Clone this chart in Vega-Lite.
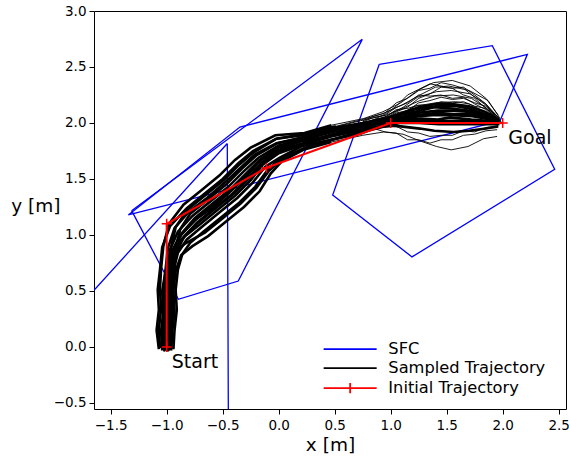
{
"$schema": "https://vega.github.io/schema/vega-lite/v6.json",
"width": 472, "height": 398,
"autosize": {"type": "none"},
"padding": {"left": 94, "top": 11, "right": 3, "bottom": 52},
"background": "white",
"config": {
  "font": "DejaVu Sans",
  "view": {"stroke": "black", "strokeWidth": 1},
  "axis": {"grid": false, "domain": false, "tickColor": "black", "tickSize": 5, "tickWidth": 1,
    "labelFont": "DejaVu Sans", "labelFontSize": 13.5, "labelColor": "black",
    "titleFont": "DejaVu Sans", "titleFontSize": 18.5, "titleFontWeight": "normal", "titleColor": "black"}
},
"datasets": {
  "sfc": [
    {"p":"A","i":0,"x":0.898,"y":2.524},{"p":"A","i":1,"x":1.907,"y":2.690},{"p":"A","i":2,"x":2.464,"y":1.587},{"p":"A","i":3,"x":1.190,"y":0.804},{"p":"A","i":4,"x":0.482,"y":1.357},{"p":"A","i":5,"x":0.898,"y":2.524},
    {"p":"B","i":0,"x":-1.343,"y":1.179},{"p":"B","i":1,"x":-0.346,"y":1.964},{"p":"B","i":2,"x":2.220,"y":2.613},{"p":"B","i":3,"x":1.976,"y":2.018},{"p":"B","i":4,"x":-1.343,"y":1.179},
    {"p":"C","i":0,"x":-1.313,"y":1.217},{"p":"C","i":1,"x":0.746,"y":2.747},{"p":"C","i":2,"x":-0.361,"y":0.589},{"p":"C","i":3,"x":-0.896,"y":0.426},{"p":"C","i":4,"x":-1.313,"y":1.217},
    {"p":"D","i":0,"x":-0.459,"y":1.817},{"p":"D","i":1,"x":-0.448,"y":-1.0},{"p":"D","i":2,"x":-2.0,"y":-1.0},{"p":"D","i":3,"x":-2.0,"y":0.12},{"p":"D","i":4,"x":-0.459,"y":1.817}
  ],
  "init": [
    {"i":0,"x":-1.0,"y":0.0},{"i":1,"x":-1.0,"y":1.1},{"i":2,"x":-0.11,"y":1.6},{"i":3,"x":1.0,"y":2.0},{"i":4,"x":2.0,"y":2.0}
  ],
  "labels": [
    {"text":"Start","x":-0.955,"y":-0.135},{"text":"Goal","x":2.05,"y":1.862}
  ],
  "samples": [
    {"t":1,"i":0,"x":-1.00,"y":-0.02},{"t":1,"i":1,"x":-1.01,"y":0.15},{"t":1,"i":2,"x":-0.99,"y":0.33},{"t":1,"i":3,"x":-0.99,"y":0.51},{"t":1,"i":4,"x":-0.96,"y":0.69},{"t":1,"i":5,"x":-0.94,"y":0.87},{"t":1,"i":6,"x":-0.87,"y":1.00},{"t":1,"i":7,"x":-0.74,"y":1.14},{"t":1,"i":8,"x":-0.58,"y":1.25},{"t":1,"i":9,"x":-0.42,"y":1.40},{"t":1,"i":10,"x":-0.28,"y":1.53},{"t":1,"i":11,"x":-0.16,"y":1.67},{"t":1,"i":12,"x":0.00,"y":1.76},{"t":1,"i":13,"x":0.21,"y":1.84},{"t":1,"i":14,"x":0.49,"y":1.89},{"t":1,"i":15,"x":0.73,"y":1.97},{"t":1,"i":16,"x":0.96,"y":2.01},{"t":1,"i":17,"x":1.11,"y":2.05},{"t":1,"i":18,"x":1.24,"y":2.07},{"t":1,"i":19,"x":1.41,"y":2.09},{"t":1,"i":20,"x":1.56,"y":2.08},{"t":1,"i":21,"x":1.69,"y":2.08},{"t":1,"i":22,"x":1.85,"y":2.05},{"t":1,"i":23,"x":1.98,"y":2.01},
    {"t":2,"i":0,"x":-1.03,"y":-0.01},{"t":2,"i":1,"x":-1.04,"y":0.16},{"t":2,"i":2,"x":-1.02,"y":0.33},{"t":2,"i":3,"x":-1.03,"y":0.52},{"t":2,"i":4,"x":-1.01,"y":0.69},{"t":2,"i":5,"x":-0.99,"y":0.88},{"t":2,"i":6,"x":-0.93,"y":1.06},{"t":2,"i":7,"x":-0.80,"y":1.21},{"t":2,"i":8,"x":-0.64,"y":1.33},{"t":2,"i":9,"x":-0.48,"y":1.47},{"t":2,"i":10,"x":-0.34,"y":1.60},{"t":2,"i":11,"x":-0.21,"y":1.72},{"t":2,"i":12,"x":-0.02,"y":1.82},{"t":2,"i":13,"x":0.24,"y":1.87},{"t":2,"i":14,"x":0.46,"y":1.95},{"t":2,"i":15,"x":0.75,"y":2.00},{"t":2,"i":16,"x":0.94,"y":2.04},{"t":2,"i":17,"x":1.12,"y":2.08},{"t":2,"i":18,"x":1.26,"y":2.11},{"t":2,"i":19,"x":1.39,"y":2.14},{"t":2,"i":20,"x":1.54,"y":2.13},{"t":2,"i":21,"x":1.71,"y":2.11},{"t":2,"i":22,"x":1.83,"y":2.08},{"t":2,"i":23,"x":1.97,"y":2.02},
    {"t":3,"i":0,"x":-0.98,"y":-0.03},{"t":3,"i":1,"x":-0.97,"y":0.14},{"t":3,"i":2,"x":-0.95,"y":0.32},{"t":3,"i":3,"x":-0.96,"y":0.50},{"t":3,"i":4,"x":-0.94,"y":0.68},{"t":3,"i":5,"x":-0.90,"y":0.84},{"t":3,"i":6,"x":-0.82,"y":0.96},{"t":3,"i":7,"x":-0.69,"y":1.07},{"t":3,"i":8,"x":-0.53,"y":1.20},{"t":3,"i":9,"x":-0.37,"y":1.33},{"t":3,"i":10,"x":-0.23,"y":1.47},{"t":3,"i":11,"x":-0.12,"y":1.61},{"t":3,"i":12,"x":0.01,"y":1.69},{"t":3,"i":13,"x":0.20,"y":1.79},{"t":3,"i":14,"x":0.50,"y":1.86},{"t":3,"i":15,"x":0.72,"y":1.92},{"t":3,"i":16,"x":0.97,"y":1.99},{"t":3,"i":17,"x":1.09,"y":2.03},{"t":3,"i":18,"x":1.27,"y":2.04},{"t":3,"i":19,"x":1.42,"y":2.03},{"t":3,"i":20,"x":1.53,"y":2.05},{"t":3,"i":21,"x":1.72,"y":2.03},{"t":3,"i":22,"x":1.86,"y":2.02},{"t":3,"i":23,"x":1.99,"y":2.00},
    {"t":4,"i":0,"x":-1.06,"y":-0.01},{"t":4,"i":1,"x":-1.07,"y":0.16},{"t":4,"i":2,"x":-1.05,"y":0.34},{"t":4,"i":3,"x":-1.06,"y":0.52},{"t":4,"i":4,"x":-1.05,"y":0.70},{"t":4,"i":5,"x":-1.03,"y":0.90},{"t":4,"i":6,"x":-0.98,"y":1.10},{"t":4,"i":7,"x":-0.85,"y":1.27},{"t":4,"i":8,"x":-0.69,"y":1.40},{"t":4,"i":9,"x":-0.53,"y":1.53},{"t":4,"i":10,"x":-0.39,"y":1.67},{"t":4,"i":11,"x":-0.25,"y":1.78},{"t":4,"i":12,"x":-0.03,"y":1.89},{"t":4,"i":13,"x":0.23,"y":1.91},{"t":4,"i":14,"x":0.47,"y":1.98},{"t":4,"i":15,"x":0.76,"y":2.04},{"t":4,"i":16,"x":0.93,"y":2.10},{"t":4,"i":17,"x":1.09,"y":2.18},{"t":4,"i":18,"x":1.24,"y":2.29},{"t":4,"i":19,"x":1.38,"y":2.36},{"t":4,"i":20,"x":1.55,"y":2.38},{"t":4,"i":21,"x":1.71,"y":2.33},{"t":4,"i":22,"x":1.85,"y":2.22},{"t":4,"i":23,"x":1.96,"y":2.07},
    {"t":5,"i":0,"x":-0.96,"y":-0.03},{"t":5,"i":1,"x":-0.95,"y":0.14},{"t":5,"i":2,"x":-0.93,"y":0.32},{"t":5,"i":3,"x":-0.94,"y":0.50},{"t":5,"i":4,"x":-0.92,"y":0.68},{"t":5,"i":5,"x":-0.87,"y":0.82},{"t":5,"i":6,"x":-0.77,"y":0.90},{"t":5,"i":7,"x":-0.63,"y":0.99},{"t":5,"i":8,"x":-0.47,"y":1.12},{"t":5,"i":9,"x":-0.31,"y":1.25},{"t":5,"i":10,"x":-0.17,"y":1.39},{"t":5,"i":11,"x":-0.07,"y":1.55},{"t":5,"i":12,"x":0.03,"y":1.66},{"t":5,"i":13,"x":0.22,"y":1.76},{"t":5,"i":14,"x":0.47,"y":1.83},{"t":5,"i":15,"x":0.75,"y":1.89},{"t":5,"i":16,"x":0.94,"y":1.92},{"t":5,"i":17,"x":1.11,"y":1.90},{"t":5,"i":18,"x":1.26,"y":1.84},{"t":5,"i":19,"x":1.41,"y":1.79},{"t":5,"i":20,"x":1.54,"y":1.76},{"t":5,"i":21,"x":1.69,"y":1.79},{"t":5,"i":22,"x":1.83,"y":1.86},{"t":5,"i":23,"x":1.95,"y":1.88},
    {"t":6,"i":0,"x":-1.01,"y":-0.02},{"t":6,"i":1,"x":-1.02,"y":0.15},{"t":6,"i":2,"x":-1.00,"y":0.33},{"t":6,"i":3,"x":-1.01,"y":0.51},{"t":6,"i":4,"x":-0.99,"y":0.69},{"t":6,"i":5,"x":-0.97,"y":0.87},{"t":6,"i":6,"x":-0.90,"y":1.03},{"t":6,"i":7,"x":-0.77,"y":1.17},{"t":6,"i":8,"x":-0.61,"y":1.30},{"t":6,"i":9,"x":-0.45,"y":1.43},{"t":6,"i":10,"x":-0.31,"y":1.57},{"t":6,"i":11,"x":-0.18,"y":1.69},{"t":6,"i":12,"x":0.00,"y":1.80},{"t":6,"i":13,"x":0.22,"y":1.85},{"t":6,"i":14,"x":0.48,"y":1.92},{"t":6,"i":15,"x":0.74,"y":1.98},{"t":6,"i":16,"x":0.95,"y":2.04},{"t":6,"i":17,"x":1.10,"y":2.09},{"t":6,"i":18,"x":1.25,"y":2.14},{"t":6,"i":19,"x":1.40,"y":2.17},{"t":6,"i":20,"x":1.55,"y":2.17},{"t":6,"i":21,"x":1.70,"y":2.15},{"t":6,"i":22,"x":1.84,"y":2.10},{"t":6,"i":23,"x":1.97,"y":2.03},
    {"t":7,"i":0,"x":-0.99,"y":-0.04},{"t":7,"i":1,"x":-0.98,"y":0.14},{"t":7,"i":2,"x":-0.97,"y":0.33},{"t":7,"i":3,"x":-0.96,"y":0.51},{"t":7,"i":4,"x":-0.95,"y":0.69},{"t":7,"i":5,"x":-0.92,"y":0.85},{"t":7,"i":6,"x":-0.85,"y":0.98},{"t":7,"i":7,"x":-0.72,"y":1.11},{"t":7,"i":8,"x":-0.56,"y":1.24},{"t":7,"i":9,"x":-0.40,"y":1.37},{"t":7,"i":10,"x":-0.26,"y":1.51},{"t":7,"i":11,"x":-0.15,"y":1.64},{"t":7,"i":12,"x":0.01,"y":1.74},{"t":7,"i":13,"x":0.23,"y":1.82},{"t":7,"i":14,"x":0.47,"y":1.89},{"t":7,"i":15,"x":0.76,"y":1.95},{"t":7,"i":16,"x":0.93,"y":2.01},{"t":7,"i":17,"x":1.12,"y":2.06},{"t":7,"i":18,"x":1.23,"y":2.09},{"t":7,"i":19,"x":1.42,"y":2.11},{"t":7,"i":20,"x":1.57,"y":2.11},{"t":7,"i":21,"x":1.68,"y":2.10},{"t":7,"i":22,"x":1.86,"y":2.06},{"t":7,"i":23,"x":1.96,"y":2.01},
    {"t":8,"i":0,"x":-1.07,"y":-0.02},{"t":8,"i":1,"x":-1.09,"y":0.15},{"t":8,"i":2,"x":-1.07,"y":0.33},{"t":8,"i":3,"x":-1.08,"y":0.51},{"t":8,"i":4,"x":-1.06,"y":0.69},{"t":8,"i":5,"x":-1.04,"y":0.89},{"t":8,"i":6,"x":-0.97,"y":1.08},{"t":8,"i":7,"x":-0.82,"y":1.24},{"t":8,"i":8,"x":-0.66,"y":1.37},{"t":8,"i":9,"x":-0.50,"y":1.50},{"t":8,"i":10,"x":-0.36,"y":1.64},{"t":8,"i":11,"x":-0.23,"y":1.75},{"t":8,"i":12,"x":-0.02,"y":1.86},{"t":8,"i":13,"x":0.21,"y":1.89},{"t":8,"i":14,"x":0.49,"y":1.96},{"t":8,"i":15,"x":0.73,"y":2.02},{"t":8,"i":16,"x":0.96,"y":2.07},{"t":8,"i":17,"x":1.08,"y":2.12},{"t":8,"i":18,"x":1.26,"y":2.20},{"t":8,"i":19,"x":1.39,"y":2.24},{"t":8,"i":20,"x":1.56,"y":2.25},{"t":8,"i":21,"x":1.72,"y":2.22},{"t":8,"i":22,"x":1.83,"y":2.15},{"t":8,"i":23,"x":1.98,"y":2.04},
    {"t":9,"i":0,"x":-0.94,"y":-0.02},{"t":9,"i":1,"x":-0.93,"y":0.15},{"t":9,"i":2,"x":-0.91,"y":0.33},{"t":9,"i":3,"x":-0.92,"y":0.51},{"t":9,"i":4,"x":-0.90,"y":0.69},{"t":9,"i":5,"x":-0.86,"y":0.83},{"t":9,"i":6,"x":-0.79,"y":0.93},{"t":9,"i":7,"x":-0.67,"y":1.03},{"t":9,"i":8,"x":-0.51,"y":1.16},{"t":9,"i":9,"x":-0.35,"y":1.29},{"t":9,"i":10,"x":-0.21,"y":1.43},{"t":9,"i":11,"x":-0.10,"y":1.58},{"t":9,"i":12,"x":0.01,"y":1.68},{"t":9,"i":13,"x":0.24,"y":1.78},{"t":9,"i":14,"x":0.48,"y":1.85},{"t":9,"i":15,"x":0.72,"y":1.91},{"t":9,"i":16,"x":0.95,"y":1.97},{"t":9,"i":17,"x":1.08,"y":2.00},{"t":9,"i":18,"x":1.25,"y":2.00},{"t":9,"i":19,"x":1.43,"y":1.99},{"t":9,"i":20,"x":1.55,"y":1.99},{"t":9,"i":21,"x":1.68,"y":1.99},{"t":9,"i":22,"x":1.84,"y":1.99},{"t":9,"i":23,"x":1.97,"y":1.99},
    {"t":10,"i":0,"x":-1.00,"y":-0.03},{"t":10,"i":1,"x":-0.99,"y":0.15},{"t":10,"i":2,"x":-0.98,"y":0.33},{"t":10,"i":3,"x":-0.99,"y":0.51},{"t":10,"i":4,"x":-0.96,"y":0.69},{"t":10,"i":5,"x":-0.94,"y":0.87},{"t":10,"i":6,"x":-0.87,"y":1.01},{"t":10,"i":7,"x":-0.75,"y":1.15},{"t":10,"i":8,"x":-0.59,"y":1.28},{"t":10,"i":9,"x":-0.43,"y":1.41},{"t":10,"i":10,"x":-0.29,"y":1.55},{"t":10,"i":11,"x":-0.17,"y":1.67},{"t":10,"i":12,"x":0.00,"y":1.79},{"t":10,"i":13,"x":0.21,"y":1.86},{"t":10,"i":14,"x":0.49,"y":1.93},{"t":10,"i":15,"x":0.74,"y":1.99},{"t":10,"i":16,"x":0.96,"y":2.06},{"t":10,"i":17,"x":1.11,"y":2.14},{"t":10,"i":18,"x":1.24,"y":2.23},{"t":10,"i":19,"x":1.41,"y":2.28},{"t":10,"i":20,"x":1.54,"y":2.29},{"t":10,"i":21,"x":1.71,"y":2.26},{"t":10,"i":22,"x":1.85,"y":2.17},{"t":10,"i":23,"x":1.97,"y":2.04},
    {"t":11,"i":0,"x":-1.02,"y":-0.04},{"t":11,"i":1,"x":-1.03,"y":0.14},{"t":11,"i":2,"x":-1.01,"y":0.32},{"t":11,"i":3,"x":-1.02,"y":0.50},{"t":11,"i":4,"x":-1.00,"y":0.68},{"t":11,"i":5,"x":-0.96,"y":0.85},{"t":11,"i":6,"x":-0.86,"y":0.97},{"t":11,"i":7,"x":-0.71,"y":1.09},{"t":11,"i":8,"x":-0.55,"y":1.22},{"t":11,"i":9,"x":-0.39,"y":1.35},{"t":11,"i":10,"x":-0.25,"y":1.49},{"t":11,"i":11,"x":-0.14,"y":1.63},{"t":11,"i":12,"x":0.00,"y":1.73},{"t":11,"i":13,"x":0.23,"y":1.81},{"t":11,"i":14,"x":0.47,"y":1.88},{"t":11,"i":15,"x":0.75,"y":1.94},{"t":11,"i":16,"x":0.95,"y":1.98},{"t":11,"i":17,"x":1.09,"y":1.97},{"t":11,"i":18,"x":1.26,"y":1.95},{"t":11,"i":19,"x":1.39,"y":1.93},{"t":11,"i":20,"x":1.56,"y":1.92},{"t":11,"i":21,"x":1.70,"y":1.93},{"t":11,"i":22,"x":1.85,"y":1.95},{"t":11,"i":23,"x":1.96,"y":1.97},
    {"t":12,"i":0,"x":-0.97,"y":-0.02},{"t":12,"i":1,"x":-0.96,"y":0.15},{"t":12,"i":2,"x":-0.94,"y":0.33},{"t":12,"i":3,"x":-0.95,"y":0.51},{"t":12,"i":4,"x":-0.93,"y":0.69},{"t":12,"i":5,"x":-0.92,"y":0.88},{"t":12,"i":6,"x":-0.88,"y":1.05},{"t":12,"i":7,"x":-0.79,"y":1.19},{"t":12,"i":8,"x":-0.63,"y":1.32},{"t":12,"i":9,"x":-0.47,"y":1.45},{"t":12,"i":10,"x":-0.33,"y":1.59},{"t":12,"i":11,"x":-0.20,"y":1.71},{"t":12,"i":12,"x":-0.01,"y":1.82},{"t":12,"i":13,"x":0.20,"y":1.87},{"t":12,"i":14,"x":0.48,"y":1.94},{"t":12,"i":15,"x":0.77,"y":2.00},{"t":12,"i":16,"x":0.95,"y":2.03},{"t":12,"i":17,"x":1.13,"y":2.04},{"t":12,"i":18,"x":1.25,"y":2.06},{"t":12,"i":19,"x":1.37,"y":2.07},{"t":12,"i":20,"x":1.55,"y":2.07},{"t":12,"i":21,"x":1.73,"y":2.06},{"t":12,"i":22,"x":1.84,"y":2.04},{"t":12,"i":23,"x":1.97,"y":2.01},
    {"t":13,"i":0,"x":-1.04,"y":-0.03},{"t":13,"i":1,"x":-1.05,"y":0.14},{"t":13,"i":2,"x":-1.03,"y":0.32},{"t":13,"i":3,"x":-1.04,"y":0.50},{"t":13,"i":4,"x":-1.01,"y":0.68},{"t":13,"i":5,"x":-0.96,"y":0.83},{"t":13,"i":6,"x":-0.84,"y":0.92},{"t":13,"i":7,"x":-0.66,"y":1.02},{"t":13,"i":8,"x":-0.50,"y":1.15},{"t":13,"i":9,"x":-0.34,"y":1.28},{"t":13,"i":10,"x":-0.20,"y":1.42},{"t":13,"i":11,"x":-0.09,"y":1.57},{"t":13,"i":12,"x":0.01,"y":1.66},{"t":13,"i":13,"x":0.22,"y":1.77},{"t":13,"i":14,"x":0.45,"y":1.84},{"t":13,"i":15,"x":0.74,"y":1.90},{"t":13,"i":16,"x":0.98,"y":2.00},{"t":13,"i":17,"x":1.10,"y":2.09},{"t":13,"i":18,"x":1.22,"y":2.15},{"t":13,"i":19,"x":1.40,"y":2.18},{"t":13,"i":20,"x":1.58,"y":2.19},{"t":13,"i":21,"x":1.70,"y":2.17},{"t":13,"i":22,"x":1.82,"y":2.11},{"t":13,"i":23,"x":1.97,"y":2.03},
    {"t":14,"i":0,"x":-0.99,"y":-0.02},{"t":14,"i":1,"x":-1.00,"y":0.15},{"t":14,"i":2,"x":-0.99,"y":0.33},{"t":14,"i":3,"x":-1.00,"y":0.51},{"t":14,"i":4,"x":-0.98,"y":0.69},{"t":14,"i":5,"x":-0.96,"y":0.89},{"t":14,"i":6,"x":-0.92,"y":1.07},{"t":14,"i":7,"x":-0.81,"y":1.23},{"t":14,"i":8,"x":-0.65,"y":1.36},{"t":14,"i":9,"x":-0.49,"y":1.49},{"t":14,"i":10,"x":-0.35,"y":1.63},{"t":14,"i":11,"x":-0.22,"y":1.74},{"t":14,"i":12,"x":-0.02,"y":1.86},{"t":14,"i":13,"x":0.22,"y":1.90},{"t":14,"i":14,"x":0.51,"y":1.97},{"t":14,"i":15,"x":0.74,"y":2.03},{"t":14,"i":16,"x":0.92,"y":2.08},{"t":14,"i":17,"x":1.10,"y":2.16},{"t":14,"i":18,"x":1.28,"y":2.26},{"t":14,"i":19,"x":1.40,"y":2.32},{"t":14,"i":20,"x":1.52,"y":2.33},{"t":14,"i":21,"x":1.70,"y":2.29},{"t":14,"i":22,"x":1.87,"y":2.20},{"t":14,"i":23,"x":1.97,"y":2.05},
    {"t":15,"i":0,"x":-0.98,"y":-0.03},{"t":15,"i":1,"x":-0.97,"y":0.15},{"t":15,"i":2,"x":-0.96,"y":0.33},{"t":15,"i":3,"x":-0.97,"y":0.51},{"t":15,"i":4,"x":-0.94,"y":0.69},{"t":15,"i":5,"x":-0.91,"y":0.86},{"t":15,"i":6,"x":-0.84,"y":0.99},{"t":15,"i":7,"x":-0.73,"y":1.11},{"t":15,"i":8,"x":-0.57,"y":1.24},{"t":15,"i":9,"x":-0.41,"y":1.37},{"t":15,"i":10,"x":-0.27,"y":1.51},{"t":15,"i":11,"x":-0.15,"y":1.65},{"t":15,"i":12,"x":0.00,"y":1.75},{"t":15,"i":13,"x":0.25,"y":1.83},{"t":15,"i":14,"x":0.48,"y":1.90},{"t":15,"i":15,"x":0.71,"y":1.96},{"t":15,"i":16,"x":0.95,"y":2.00},{"t":15,"i":17,"x":1.14,"y":2.02},{"t":15,"i":18,"x":1.25,"y":2.02},{"t":15,"i":19,"x":1.36,"y":2.02},{"t":15,"i":20,"x":1.55,"y":2.02},{"t":15,"i":21,"x":1.74,"y":2.02},{"t":15,"i":22,"x":1.84,"y":2.01},{"t":15,"i":23,"x":1.97,"y":2.00},
    {"t":16,"i":0,"x":-1.01,"y":-0.03},{"t":16,"i":1,"x":-1.00,"y":0.15},{"t":16,"i":2,"x":-1.01,"y":0.33},{"t":16,"i":3,"x":-0.99,"y":0.51},{"t":16,"i":4,"x":-0.98,"y":0.69},{"t":16,"i":5,"x":-0.95,"y":0.86},{"t":16,"i":6,"x":-0.88,"y":1.00},{"t":16,"i":7,"x":-0.75,"y":1.13},{"t":16,"i":8,"x":-0.59,"y":1.26},{"t":16,"i":9,"x":-0.43,"y":1.39},{"t":16,"i":10,"x":-0.29,"y":1.54},{"t":16,"i":11,"x":-0.17,"y":1.66},{"t":16,"i":12,"x":0.00,"y":1.78},{"t":16,"i":13,"x":0.22,"y":1.85},{"t":16,"i":14,"x":0.44,"y":1.92},{"t":16,"i":15,"x":0.74,"y":1.98},{"t":16,"i":16,"x":0.99,"y":2.03},{"t":16,"i":17,"x":1.10,"y":2.08},{"t":16,"i":18,"x":1.21,"y":2.12},{"t":16,"i":19,"x":1.40,"y":2.15},{"t":16,"i":20,"x":1.59,"y":2.15},{"t":16,"i":21,"x":1.70,"y":2.13},{"t":16,"i":22,"x":1.81,"y":2.09},{"t":16,"i":23,"x":1.97,"y":2.02},
    {"t":17,"i":0,"x":0.75,"y":2.00},{"t":17,"i":1,"x":0.85,"y":2.03},{"t":17,"i":2,"x":0.95,"y":2.08},{"t":17,"i":3,"x":1.05,"y":2.15},{"t":17,"i":4,"x":1.15,"y":2.25},{"t":17,"i":5,"x":1.25,"y":2.30},{"t":17,"i":6,"x":1.35,"y":2.35},{"t":17,"i":7,"x":1.45,"y":2.33},{"t":17,"i":8,"x":1.55,"y":2.31},{"t":17,"i":9,"x":1.65,"y":2.25},{"t":17,"i":10,"x":1.75,"y":2.22},{"t":17,"i":11,"x":1.85,"y":2.13},{"t":17,"i":12,"x":1.95,"y":2.05},
    {"t":18,"i":0,"x":0.75,"y":1.99},{"t":18,"i":1,"x":0.85,"y":2.02},{"t":18,"i":2,"x":0.95,"y":2.04},{"t":18,"i":3,"x":1.05,"y":2.10},{"t":18,"i":4,"x":1.15,"y":2.14},{"t":18,"i":5,"x":1.25,"y":2.22},{"t":18,"i":6,"x":1.35,"y":2.26},{"t":18,"i":7,"x":1.45,"y":2.32},{"t":18,"i":8,"x":1.55,"y":2.31},{"t":18,"i":9,"x":1.65,"y":2.32},{"t":18,"i":10,"x":1.75,"y":2.25},{"t":18,"i":11,"x":1.85,"y":2.17},{"t":18,"i":12,"x":1.95,"y":2.04},
    {"t":19,"i":0,"x":0.75,"y":2.01},{"t":19,"i":1,"x":0.85,"y":2.05},{"t":19,"i":2,"x":0.95,"y":2.07},{"t":19,"i":3,"x":1.05,"y":2.14},{"t":19,"i":4,"x":1.15,"y":2.18},{"t":19,"i":5,"x":1.25,"y":2.25},{"t":19,"i":6,"x":1.35,"y":2.24},{"t":19,"i":7,"x":1.45,"y":2.25},{"t":19,"i":8,"x":1.55,"y":2.22},{"t":19,"i":9,"x":1.65,"y":2.23},{"t":19,"i":10,"x":1.75,"y":2.17},{"t":19,"i":11,"x":1.85,"y":2.12},{"t":19,"i":12,"x":1.95,"y":2.03},
    {"t":20,"i":0,"x":0.75,"y":1.98},{"t":20,"i":1,"x":0.85,"y":2.02},{"t":20,"i":2,"x":0.95,"y":2.03},{"t":20,"i":3,"x":1.05,"y":2.09},{"t":20,"i":4,"x":1.15,"y":2.11},{"t":20,"i":5,"x":1.25,"y":2.18},{"t":20,"i":6,"x":1.35,"y":2.20},{"t":20,"i":7,"x":1.45,"y":2.23},{"t":20,"i":8,"x":1.55,"y":2.21},{"t":20,"i":9,"x":1.65,"y":2.22},{"t":20,"i":10,"x":1.75,"y":2.18},{"t":20,"i":11,"x":1.85,"y":2.15},{"t":20,"i":12,"x":1.95,"y":2.06},
    {"t":21,"i":0,"x":0.75,"y":1.93},{"t":21,"i":1,"x":0.85,"y":1.95},{"t":21,"i":2,"x":0.95,"y":1.92},{"t":21,"i":3,"x":1.05,"y":1.91},{"t":21,"i":4,"x":1.15,"y":1.85},{"t":21,"i":5,"x":1.25,"y":1.85},{"t":21,"i":6,"x":1.35,"y":1.82},{"t":21,"i":7,"x":1.45,"y":1.85},{"t":21,"i":8,"x":1.55,"y":1.85},{"t":21,"i":9,"x":1.65,"y":1.89},{"t":21,"i":10,"x":1.75,"y":1.90},{"t":21,"i":11,"x":1.85,"y":1.93},{"t":21,"i":12,"x":1.95,"y":1.94},
    {"t":22,"i":0,"x":0.75,"y":1.95},{"t":22,"i":1,"x":0.85,"y":1.97},{"t":22,"i":2,"x":0.95,"y":1.96},{"t":22,"i":3,"x":1.05,"y":1.97},{"t":22,"i":4,"x":1.15,"y":1.92},{"t":22,"i":5,"x":1.25,"y":1.91},{"t":22,"i":6,"x":1.35,"y":1.88},{"t":22,"i":7,"x":1.45,"y":1.89},{"t":22,"i":8,"x":1.55,"y":1.89},{"t":22,"i":9,"x":1.65,"y":1.93},{"t":22,"i":10,"x":1.75,"y":1.92},{"t":22,"i":11,"x":1.85,"y":1.96},{"t":22,"i":12,"x":1.95,"y":1.97},
    {"t":23,"i":0,"x":0.75,"y":2.02},{"t":23,"i":1,"x":0.85,"y":2.06},{"t":23,"i":2,"x":0.95,"y":2.09},{"t":23,"i":3,"x":1.05,"y":2.18},{"t":23,"i":4,"x":1.15,"y":2.22},{"t":23,"i":5,"x":1.25,"y":2.29},{"t":23,"i":6,"x":1.35,"y":2.31},{"t":23,"i":7,"x":1.45,"y":2.36},{"t":23,"i":8,"x":1.55,"y":2.34},{"t":23,"i":9,"x":1.65,"y":2.31},{"t":23,"i":10,"x":1.75,"y":2.23},{"t":23,"i":11,"x":1.85,"y":2.16},{"t":23,"i":12,"x":1.95,"y":2.06},
    {"t":24,"i":0,"x":0.75,"y":1.99},{"t":24,"i":1,"x":0.85,"y":2.03},{"t":24,"i":2,"x":0.95,"y":2.05},{"t":24,"i":3,"x":1.05,"y":2.12},{"t":24,"i":4,"x":1.15,"y":2.13},{"t":24,"i":5,"x":1.25,"y":2.16},{"t":24,"i":6,"x":1.35,"y":2.16},{"t":24,"i":7,"x":1.45,"y":2.19},{"t":24,"i":8,"x":1.55,"y":2.18},{"t":24,"i":9,"x":1.65,"y":2.19},{"t":24,"i":10,"x":1.75,"y":2.15},{"t":24,"i":11,"x":1.85,"y":2.13},{"t":24,"i":12,"x":1.95,"y":2.04}
  ]
},
"encoding": {
  "x": {"field": "x", "type": "quantitative",
    "scale": {"domain": [-1.649, 2.565], "nice": false, "zero": false},
    "axis": {"values": [-1.5,-1,-0.5,0,0.5,1,1.5,2,2.5], "format": ".1f", "title": "x [m]", "labelPadding": 4, "titlePadding": 4}},
  "y": {"field": "y", "type": "quantitative",
    "scale": {"domain": [-0.554, 3.0], "nice": false, "zero": false},
    "axis": {"values": [-0.5,0,0.5,1,1.5,2,2.5,3], "format": ".1f", "title": "y [m]", "labelPadding": 3,
      "titleAngle": 0, "titleAlign": "right", "titleBaseline": "middle", "titleX": -34, "titleY": 194}}
},
"layer": [
  {"data": {"name": "sfc"},
   "mark": {"type": "line", "clip": true, "strokeWidth": 1.3},
   "encoding": {"detail": {"field": "p"}, "order": {"field": "i"},
     "color": {"datum": "SFC", "type": "nominal",
       "scale": {"domain": ["SFC", "Sampled Trajectory", "Initial Trajectory"], "range": ["#0000ff", "#000000", "#ff0000"]},
       "legend": {"orient": "none", "legendX": 248, "legendY": 330, "title": null,
         "symbolType": "M-10,0L10,0", "symbolSize": 28.1, "symbolStrokeWidth": 1.8,
         "labelFontSize": 16.3, "labelFont": "DejaVu Sans", "labelColor": "black", "labelOffset": 30, "rowPadding": 2, "padding": 0,
         "encode": {"symbols": {"update": {"shape": {"signal": "datum.value === 'Initial Trajectory' ? 'M-10,0L10,0M0,-1.9L0,1.9' : 'M-10,0L10,0'"}}}}}}}},
  {"data": {"name": "samples"},
   "transform": [{"filter": "datum.t <= 16 && (datum.i <= 14 || indexof([1,2,3,6,7,9,11,12,15,16], datum.t) >= 0)"}],
   "mark": {"type": "line", "clip": true, "strokeWidth": 2.6},
   "encoding": {"detail": {"field": "t"}, "order": {"field": "i"},
     "color": {"datum": "Sampled Trajectory", "type": "nominal"}}},
  {"data": {"name": "samples"},
   "mark": {"type": "line", "clip": true, "strokeWidth": 0.9},
   "encoding": {"detail": {"field": "t"}, "order": {"field": "i"},
     "color": {"datum": "Sampled Trajectory", "type": "nominal"}}},
  {"data": {"name": "init"},
   "mark": {"type": "line", "clip": true, "strokeWidth": 2},
   "encoding": {"order": {"field": "i"},
     "color": {"datum": "Initial Trajectory", "type": "nominal"}}},
  {"data": {"name": "init"},
   "mark": {"type": "point", "shape": "M-1,0L1,0M0,-1L0,1", "size": 100, "filled": false, "strokeWidth": 1.5, "color": "#ff0000", "opacity": 1},
   "encoding": {}},
  {"data": {"name": "labels"},
   "mark": {"type": "text", "align": "left", "baseline": "middle", "fontSize": 19, "font": "DejaVu Sans", "color": "black"},
   "encoding": {"text": {"field": "text"}}}
]
}
